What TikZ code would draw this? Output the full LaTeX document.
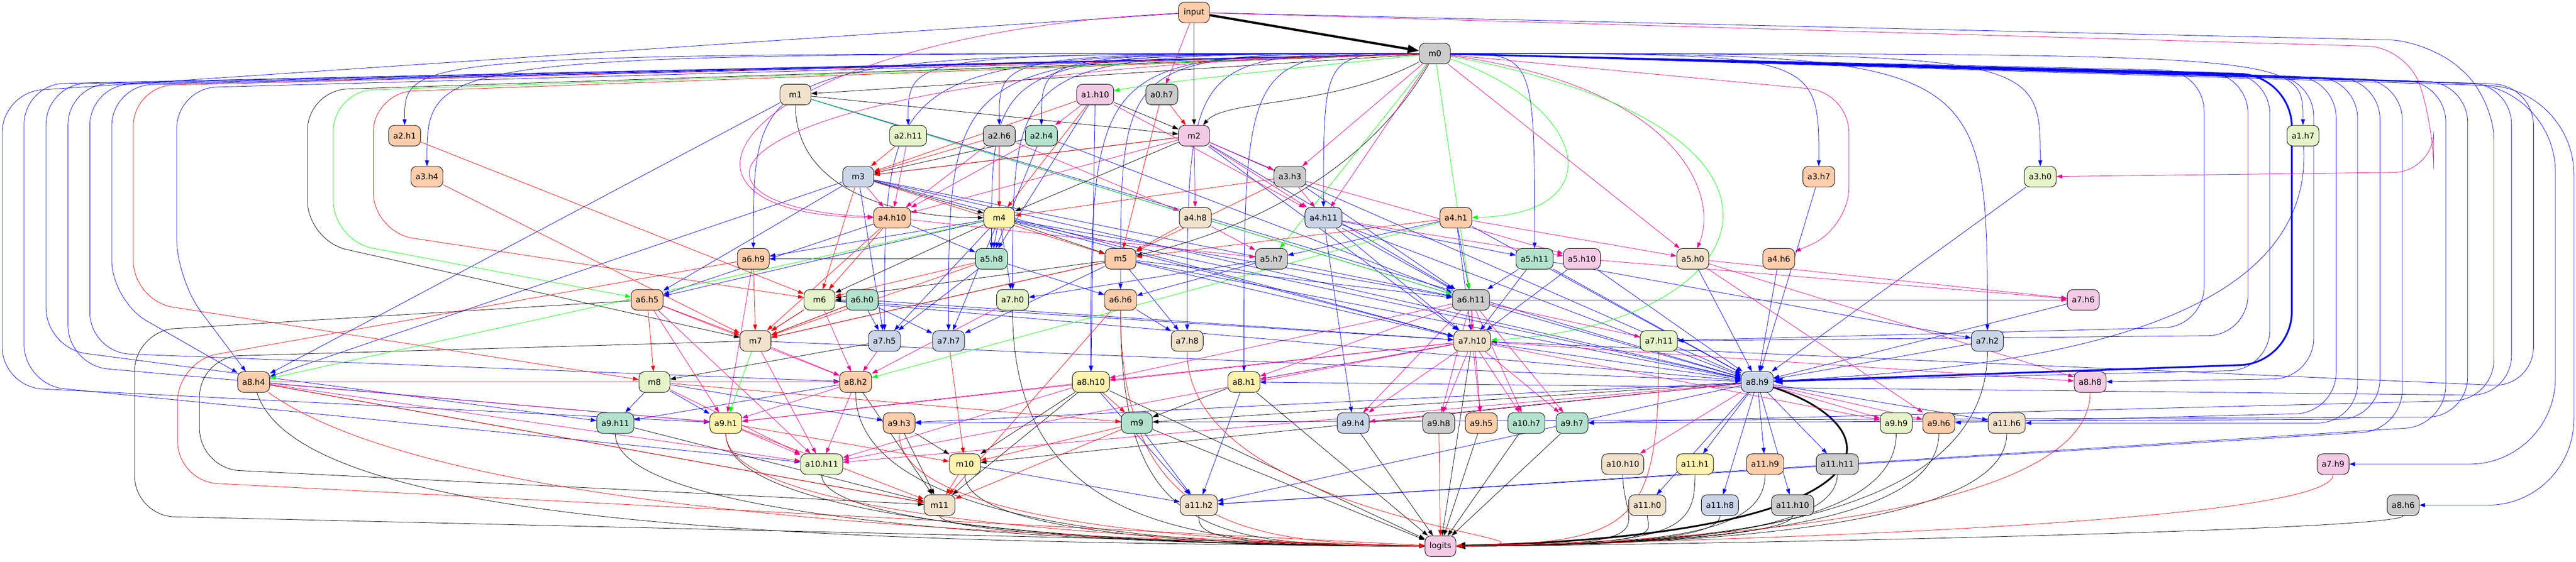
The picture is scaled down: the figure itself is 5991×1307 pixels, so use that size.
\documentclass[tikz,border=0pt]{standalone}
\usepackage{fontspec}
\setmainfont{DejaVu Sans}
\usetikzlibrary{arrows.meta}
\definecolor{cA}{HTML}{B3E2CD}
\definecolor{cB}{HTML}{FDCDAC}
\definecolor{cC}{HTML}{CBD5E8}
\definecolor{cD}{HTML}{F4CAE4}
\definecolor{cE}{HTML}{E6F5C9}
\definecolor{cF}{HTML}{FFF2AE}
\definecolor{cG}{HTML}{F1E2CC}
\definecolor{cH}{HTML}{CCCCCC}
\pgfdeclarelayer{bg}
\pgfsetlayers{bg,main}
\begin{document}
\begin{tikzpicture}[x=0.75pt,y=-0.75pt,
 nd/.style={draw=black,line width=0.8pt,rounded corners=10pt,minimum height=36pt,minimum width=54pt,inner xsep=8pt,inner ysep=0pt,font=\fontsize{14}{16}\selectfont},
 e/.style={-{Triangle[length=10pt,width=7pt]},line width=0.7pt},
 eb/.style={e,blue},
 er/.style={e,red},
 eg/.style={e,green},
 em/.style={e,magenta},
 ek/.style={e,black},
 rc/.style={rounded corners=70pt}]
\useasboundingbox (0,0) rectangle (5991,1307);
% rank 0-2
\node[nd,fill=cB] (input) at (2777,29) {input};
\node[nd,fill=cH] (m0) at (3337,124.5) {m0};
\node[nd,fill=cG] (m1) at (1850,220) {m1};
\node[nd,fill=cD] (a1h10) at (2547,220) {a1.h10};
\node[nd,fill=cH] (a0h7) at (2702,220) {a0.h7};
% rank 3
\node[nd,fill=cB] (a2h1) at (941,315.5) {a2.h1};
\node[nd,fill=cE] (a2h11) at (2112,315.5) {a2.h11};
\node[nd,fill=cH] (a2h6) at (2324,315.5) {a2.h6};
\node[nd,fill=cA] (a2h4) at (2422,315.5) {a2.h4};
\node[nd,fill=cD] (m2) at (2777,315.5) {m2};
\node[nd,fill=cE] (a1h7) at (5356,315.5) {a1.h7};
% rank 4
\node[nd,fill=cB] (a3h4) at (993,411) {a3.h4};
\node[nd,fill=cC] (m3) at (1996,411) {m3};
\node[nd,fill=cH] (a3h3) at (3000,411) {a3.h3};
\node[nd,fill=cB] (a3h7) at (4230,411) {a3.h7};
\node[nd,fill=cE] (a3h0) at (4745,411) {a3.h0};
% rank 5
\node[nd,fill=cB] (a4h10) at (2075,506.5) {a4.h10};
\node[nd,fill=cF] (m4) at (2324,506.5) {m4};
\node[nd,fill=cG] (a4h8) at (2780,506.5) {a4.h8};
\node[nd,fill=cC] (a4h11) at (3078,506.5) {a4.h11};
\node[nd,fill=cB] (a4h1) at (3386,506.5) {a4.h1};
% rank 6
\node[nd,fill=cB] (a6h9) at (1752,602) {a6.h9};
\node[nd,fill=cA] (a5h8) at (2306,602) {a5.h8};
\node[nd,fill=cB] (m5) at (2606,602) {m5};
\node[nd,fill=cH] (a5h7) at (2957,602) {a5.h7};
\node[nd,fill=cA] (a5h11) at (3569,602) {a5.h11};
\node[nd,fill=cD] (a5h10) at (3679,602) {a5.h10};
\node[nd,fill=cG] (a5h0) at (3937,602) {a5.h0};
\node[nd,fill=cB] (a4h6) at (4137,602) {a4.h6};
% rank 7
\node[nd,fill=cB] (a6h5) at (1505,697.5) {a6.h5};
\node[nd,fill=cE] (m6) at (1906,697.5) {m6};
\node[nd,fill=cA] (a6h0) at (2005,697.5) {a6.h0};
\node[nd,fill=cE] (a7h0) at (2355,697.5) {a7.h0};
\node[nd,fill=cB] (a6h6) at (2606,697.5) {a6.h6};
\node[nd,fill=cH] (a6h11) at (3421,697.5) {a6.h11};
\node[nd,fill=cD] (a7h6) at (4845,697.5) {a7.h6};
% rank 8
\node[nd,fill=cG] (m7) at (1757,793) {m7};
\node[nd,fill=cC] (a7h5) at (2057,793) {a7.h5};
\node[nd,fill=cC] (a7h7) at (2206,793) {a7.h7};
\node[nd,fill=cG] (a7h8) at (2761,793) {a7.h8};
\node[nd,fill=cG] (a7h10) at (3424,793) {a7.h10};
\node[nd,fill=cE] (a7h11) at (3858,793) {a7.h11};
\node[nd,fill=cC] (a7h2) at (4622,793) {a7.h2};
% rank 9
\node[nd,fill=cB] (a8h4) at (590,888.5) {a8.h4};
\node[nd,fill=cE] (m8) at (1522,888.5) {m8};
\node[nd,fill=cB] (a8h2) at (1990,888.5) {a8.h2};
\node[nd,fill=cF] (a8h10) at (2537,888.5) {a8.h10};
\node[nd,fill=cF] (a8h1) at (2893,888.5) {a8.h1};
\node[nd,fill=cC] (a8h9) at (4087,888.5) {a8.h9};
\node[nd,fill=cD] (a8h8) at (4861,888.5) {a8.h8};
% rank 10
\node[nd,fill=cA] (a9h11) at (1431,984) {a9.h11};
\node[nd,fill=cF] (a9h1) at (1688,984) {a9.h1};
\node[nd,fill=cB] (a9h3) at (2091,984) {a9.h3};
\node[nd,fill=cA] (m9) at (2644,984) {m9};
\node[nd,fill=cC] (a9h4) at (3147,984) {a9.h4};
\node[nd,fill=cH] (a9h8) at (3346,984) {a9.h8};
\node[nd,fill=cB] (a9h5) at (3445,984) {a9.h5};
\node[nd,fill=cA] (a10h7) at (3550,984) {a10.h7};
\node[nd,fill=cA] (a9h7) at (3656,984) {a9.h7};
\node[nd,fill=cE] (a9h9) at (4410,984) {a9.h9};
\node[nd,fill=cB] (a9h6) at (4509,984) {a9.h6};
\node[nd,fill=cG] (a11h6) at (4667,984) {a11.h6};
% rank 11
\node[nd,fill=cE] (a10h11) at (1911,1079.5) {a10.h11};
\node[nd,fill=cF] (m10) at (2244,1079.5) {m10};
\node[nd,fill=cG] (a10h10) at (3774,1079.5) {a10.h10};
\node[nd,fill=cF] (a11h1) at (3942,1079.5) {a11.h1};
\node[nd,fill=cB] (a11h9) at (4105,1079.5) {a11.h9};
\node[nd,fill=cH] (a11h11) at (4273,1079.5) {a11.h11};
\node[nd,fill=cD] (a7h9) at (5426,1079.5) {a7.h9};
% rank 12
\node[nd,fill=cG] (m11) at (2185,1175) {m11};
\node[nd,fill=cG] (a11h2) at (2788,1175) {a11.h2};
\node[nd,fill=cG] (a11h0) at (3831,1175) {a11.h0};
\node[nd,fill=cC] (a11h8) at (4000,1175) {a11.h8};
\node[nd,fill=cH] (a11h10) at (4169,1175) {a11.h10};
\node[nd,fill=cH] (a8h6) at (5589,1175) {a8.h6};
% rank 13
\node[nd,fill=cD] (logits) at (3350,1270.5) {logits};

\begin{pgfonlayer}{bg}
% thick edges
\draw[ek,line width=4pt,-{Triangle[length=20pt,width=14pt]}] (input) -- (m0);
\draw[eb,line width=3pt,rounded corners=90pt,-{Triangle[length=16pt,width=12pt]}] (m0) -- (5330,175) -- (5330,845) -- (a8h9);
\draw[ek,line width=3pt,-{Triangle[length=16pt,width=12pt]}] (a8h9) .. controls (4420,1000) and (4420,1245) .. (logits);
% blue fan from m0
\foreach \t in {a2h1,a3h4,a2h11,a2h6,a2h4,a3h7,a3h0,a1h7,a6h9,a7h0,a6h6,a5h8,a7h5,a7h7,a7h8,a8h10,a5h11,a7h2,a4h11,a8h1}
  \draw[eb] (m0) .. controls (\t |- m0) .. (\t);
% left loops
\draw[eb,rc] (input) -- (5,215) -- (5,900) -- (a9h1);
\draw[eb,rc] (m0) -- (56,196) -- (56,895) -- (a10h11);
\draw[eb,rc] (m0) -- (107,196) -- (107,810) -- (a9h11);
\draw[eb,rc] (m0) -- (158,197) -- (158,850) -- (a9h1);
\draw[eb,rc] (m0) -- (209,198) -- (209,820) -- (a8h2);
\draw[eb,rc] (m0) -- (260,199) -- (260,700) -- (a8h4);
\draw[er,rc] (m0) -- (310,200) -- (310,700) -- (m8);
\draw[eb,rc] (m0) -- (411,205) -- (411,650) -- (a8h4);
\draw[ek,rc] (m0) -- (715,210) -- (715,560) -- (m7);
\draw[eg,rc] (m0) -- (775,212) -- (775,560) -- (a6h5);
\draw[er,rc] (m0) -- (868,215) -- (868,540) -- (m6);
\draw[ek,rc] (a6h5) -- (313,770) -- (313,1200) -- (logits);
\draw[ek,rc] (m7) -- (464,830) -- (464,1090) -- (m11);
\draw[er,rc] (a6h9) -- (413,840) -- (413,1120) -- (logits);
% right loops
\draw[eb,rc] (m0) -- (5126,165) -- (5126,760) -- (a7h11);
\draw[eb,rc] (m0) -- (5228,170) -- (5228,780) -- (a7h11);
\draw[eb,rc] (m0) -- (5279,172) -- (5279,860) -- (a8h9);
\draw[eb,rc] (m0) -- (5381,178) -- (5381,880) -- (a8h8);
\draw[eb,rc] (m0) -- (5433,180) -- (5433,960) -- (a9h6);
\draw[eb,rc] (m0) -- (5483,182) -- (5483,984) -- (a11h6);
\draw[eb,rc] (m0) -- (5535,184) -- (5535,975) -- (a9h7);
\draw[eb,rc] (m0) -- (5587,186) -- (5587,1000) -- (a11h2);
\draw[eb,rc] (m0) -- (5688,190) -- (5688,990) -- (a11h2);
\draw[eb,rc] (m0) -- (5739,192) -- (5739,970) -- (a9h3);
\draw[eb,rc] (m0) -- (5841,196) -- (5841,920) -- (a8h1);
\draw[eb,rc] (m0) -- (5892,198) -- (5892,900) -- (a7h10);
\draw[eb,rounded corners=150pt] (m0) -- (5943,200) -- (5943,1079.5) -- (a7h9);
\draw[eb,rounded corners=150pt] (m0) -- (5986,205) -- (5986,1175) -- (a8h6);
\draw[eb,rc] (input) -- (5650,95) -- (5800,230) -- (5800,930) -- (a9h7);
\draw[em,rc] (input) -- (5600,110) -- (5660,300) -- (5660,400) -- (a3h0);
\draw[em,rc] (m0) -- (4300,215) -- (4300,530) -- (a4h6);
% blue straight
\foreach \a/\b in {a4h11/a9h4,a1h10/a8h10,a1h10/a5h8,m4/a5h8,a4h10/a5h8,a2h4/a5h8,m4/a6h9,a5h8/a6h9,m3/a6h5,m4/a6h5,a4h10/a6h5,m4/a7h0,a5h7/a7h0,a5h8/a6h6,a5h7/a6h6,a6h0/a7h5,m4/a7h5,a5h8/a7h5,m3/a7h5,a6h0/a7h7,m5/a7h7,m4/a7h7,m5/a7h8,a6h6/a7h8,
  m1/a6h11,m2/a6h11,m3/a6h11,m4/a6h11,m5/a6h11,a3h3/a6h11,a4h11/a6h11,a4h1/a6h11,a5h11/a6h11,a2h4/a6h11,
  m2/a7h10,m3/a7h10,m4/a7h10,m5/a7h10,m6/a7h10,a4h11/a7h10,a4h1/a7h10,a5h11/a7h10,a5h10/a7h10,a6h0/a7h10,
  m1/a8h9,m2/a8h9,m3/a8h9,m4/a8h9,m5/a8h9,m6/a8h9,m7/a8h9,a3h7/a8h9,a3h0/a8h9,a4h6/a8h9,a4h11/a8h9,a4h1/a8h9,a5h0/a8h9,a6h11/a8h9,a7h10/a8h9,a5h10/a8h9,a5h11/a8h9,a7h6/a8h9,a7h2/a8h9,
  a8h9/a11h9,a8h9/a11h11,a8h9/a11h10,a8h9/a11h8,a8h9/a11h1,a8h9/a11h0,a8h9/a11h6,a8h9/a9h3,a8h9/a11h2,
  m8/a9h11,m8/a9h1,m8/a9h3,m9/a11h2,a8h10/a11h2,a8h1/a11h2,m10/a11h2,a7h10/a8h1,a4h1/a5h7,a4h11/a5h11,a5h11/a7h2,m1/a8h4,m3/a8h4,a8h2/a9h11}
  \draw[eb] (\a) -- (\b);
\draw[eb] (a1h7) .. controls (5385,800) and (4600,860) .. (a8h9);
% black
\foreach \a/\b in {input/m2,m0/m1,m1/m2,a1h10/m2,m2/m3,a2h4/m3,m2/m4,m3/m4,m4/m5,m5/m6,a6h0/m6,m4/m6,m6/m7,m5/m7,a6h0/m7,a7h5/m8,a8h1/m9,a8h9/m9,a9h3/m10,a8h10/m10,a8h9/m10,a9h3/m11,a8h2/m11,a8h10/m11,a8h4/m11,a9h11/m11,
  a9h4/logits,a9h5/logits,a10h7/logits,a9h7/logits,a7h10/logits,a8h10/logits,a8h1/logits,m9/logits}
  \draw[ek] (\a) -- (\b);
\draw[ek] (m0) .. controls (3100,250) and (2850,230) .. (m2);
\draw[ek] (m1) .. controls (1850,450) and (2100,506) .. (m4);
\draw[ek] (m0) .. controls (3150,450) and (2800,560) .. (m5);
\foreach \s in {m11,a9h11,a10h11,m10,a8h2,a9h1,a7h0,a11h2,a6h6}
  \draw[ek] (\s) .. controls (\s |- 0,1240) and (2800,1270) .. (logits);
\foreach \s in {a11h0,a11h8,a11h10,a11h11,a11h9,a9h9,a9h6,a7h2,a11h6,a8h6,a10h10,a11h1}
  \draw[ek] (\s) .. controls (\s |- 0,1235) and (3900,1268) .. (logits);
\draw[ek] (a8h4) .. controls (700,1240) and (2000,1262) .. (logits);
% red
\foreach \a/\b in {a0h7/m2,a0h7/m5,a2h11/m3,a2h6/m3,a1h10/m3,m2/m3,a2h6/m4,a1h10/m4,a3h3/m4,m3/m5,a3h3/m5,a4h1/m5,m3/m6,a2h1/m6,a4h10/m6,a5h8/m6,m5/m7,a6h5/m7,a6h5/m8,m6/m7,a6h0/m7,a4h10/m7,a5h8/m7,a8h10/m9,m8/m9,a7h7/m10,m9/m10,a9h1/m10,m10/m11,m9/m11,a6h6/m11,a8h4/m11,a9h1/m11,a9h8/logits,a4h8/m5,a6h9/m7,a3h4/m7}
  \draw[er] (\a) -- (\b);
\foreach \s in {a7h11,a8h8,a7h9,a7h8}
  \draw[er] (\s) .. controls (\s |- 0,1225) and (3800,1262) .. (logits);
\foreach \s in {a6h6,a9h3,a9h1}
  \draw[er] (\s) .. controls (\s |- 0,1230) and (2900,1262) .. (logits);
\draw[er] (a8h4) .. controls (1000,1180) and (2200,1250) .. (logits);
% magenta
\foreach \a/\b in {input/a0h7,a1h10/a2h4,m2/a4h8,m2/a3h3,m0/a3h3,m3/a4h10,a2h6/a4h10,a2h4/a4h10,a2h11/a4h10,m2/a4h10,m2/a4h11,a3h3/a4h11,m0/a4h11,a1h10/a4h11,a2h6/a4h8,a3h3/a5h10,a4h11/a5h10,a4h1/a5h0,m0/a5h0,a4h8/a5h7,a4h10/a5h7,a5h10/a7h6,a5h0/a7h6,
  a6h11/a7h10,a6h11/a7h11,a6h11/a9h4,a6h11/a9h5,a6h11/a9h7,a6h11/a10h7,a7h10/a9h4,a7h10/a9h8,a7h10/a9h5,a7h10/a10h7,a7h10/a9h7,a7h10/a8h10,a6h11/a8h10,a7h10/a9h1,
  m7/a8h2,a6h5/a8h2,a7h5/a8h2,m6/a8h2,a7h0/a8h2,a6h5/a10h11,a9h1/a10h11,m8/a10h11,a8h2/a10h11,a8h2/a9h1,a8h10/a9h1,
  a8h9/a9h9,a8h9/a9h6,a8h9/a10h10,a8h9/a9h4,a8h9/a10h11,a5h0/a8h8,a7h10/a8h8,a5h0/a9h6,a6h5/a9h1,a7h10/a8h1,a6h11/a8h1,a8h4/a9h1,a8h4/a10h11,a8h4/a8h2,a7h10/a10h11,a6h9/a9h1,a7h10/a9h9,a6h11/a9h8,m7/a10h11,a8h10/a10h11,a6h11/a7h6}
  \draw[em] (\a) -- (\b);
\draw[em] (input) .. controls (1700,80) and (1450,500) .. (a4h10);
\draw[em] (m0) .. controls (1600,160) and (1500,480) .. (a4h10);
\draw[em] (m0) .. controls (3900,200) and (4000,450) .. (a5h0);
% green
\draw[eg] (m0) .. controls (3000,160) and (2700,190) .. (a1h10);
\draw[eg] (m0) .. controls (3700,250) and (3750,500) .. (a4h1);
\draw[eg] (m0) .. controls (4300,300) and (4100,760) .. (a7h10);
\foreach \a/\b in {m0/a5h7,m0/a6h11,m7/a9h1,m1/a6h11,m4/a8h4,a4h1/a8h2}
  \draw[eg] (\a) -- (\b);
\end{pgfonlayer}
\end{tikzpicture}
\end{document}
